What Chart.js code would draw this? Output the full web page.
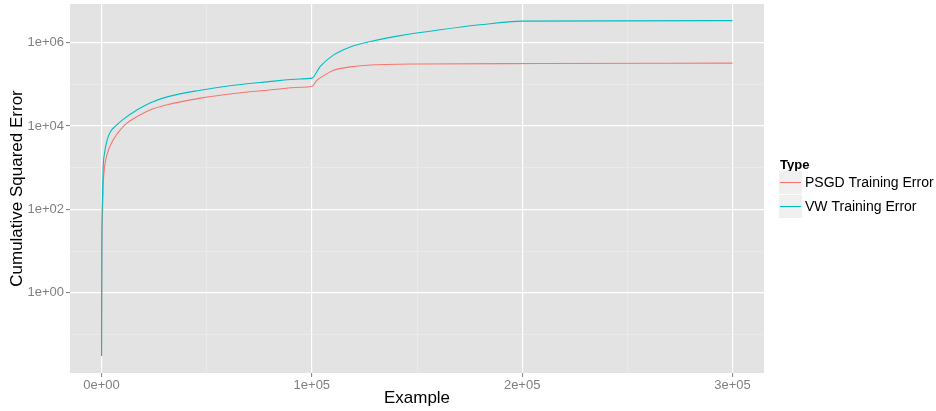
<!DOCTYPE html>
<html>
<head>
<meta charset="utf-8">
<title>Cumulative Squared Error</title>
<script src="https://cdn.jsdelivr.net/npm/chart.js@4.4.1/dist/chart.umd.min.js"></script>
<style>
  html, body { margin: 0; padding: 0; background: #fff; }
  #wrap { width: 936px; height: 411px; position: relative; }
</style>
</head>
<body>
<div id="wrap"><canvas id="errChart"></canvas></div>
<script>
// series
const seriesNames = ['PSGD Training Error', 'VW Training Error'];
const seriesColors = ['#F8766D', '#00BFC4'];

const psgdX = [0, 150, 400, 800, 1400, 2500, 5560, 10500, 18500, 23300, 31200, 47000, 62900, 78700, 94500, 100000,
  102500, 105600, 110400, 118300, 126200, 150000, 208000, 300000];
const psgdY = [0.03, 8, 60, 400, 1000, 2000, 4700, 10000, 18600, 24500, 32400, 46800, 60300, 72400, 85100, 89100,
  126000, 162000, 219000, 263000, 288000, 309000, 316000, 324000];

const vwX = [0, 150, 400, 800, 1400, 2700, 4300, 6650, 10000, 17000, 23300, 31200, 47000, 62900, 78700, 94500, 100000,
  104000, 110400, 118300, 127800, 142000, 161000, 180000, 200000, 300000];
const vwY = [0.03, 20, 170, 1070, 2200, 4700, 7400, 10000, 14100, 24500, 36300, 50100, 72400, 95500, 115000, 135000, 141000,
  270000, 510000, 794000, 1070000, 1480000, 2040000, 2690000, 3300000, 3390000];

// axis breaks
const xMajorTicks = [0, 100000, 200000, 300000];
const xTickLabels = ['0e+00', '1e+05', '2e+05', '3e+05'];
const xMinorTicks = [50000, 150000, 250000];
const yMajorTicks = [1, 100, 10000, 1000000];
const yTickLabels = ['1e+00', '1e+02', '1e+04', '1e+06'];
const yMinorTicks = [0.1, 10, 1000, 100000];

const toPoints = (xs, ys) => xs.map((x, i) => ({ x: x, y: ys[i] }));

const panelBg = '#E3E3E3';
const axisGrey = '#7F7F7F';
const fontFamily = '"Liberation Sans", Arial, sans-serif';

// grey panel behind the grid
const panelPlugin = {
  id: 'panel',
  beforeDraw(chart) {
    const { ctx, chartArea: a } = chart;
    ctx.save();
    ctx.fillStyle = panelBg;
    ctx.fillRect(a.left, a.top, a.right - a.left, a.bottom - a.top);
    ctx.restore();
  }
};

// legend box on the right: title plus one key per series
const keyLegend = {
  id: 'keyLegend',
  afterDraw(chart) {
    const { ctx, chartArea: a } = chart;
    const left = a.right + 15;
    const top = (a.top + a.bottom) / 2 - 30;
    const key = 23;
    ctx.save();
    ctx.fillStyle = '#000';
    ctx.font = 'bold 13px ' + fontFamily;
    ctx.textBaseline = 'alphabetic';
    ctx.fillText('Type', left + 1, top + 10);
    seriesNames.forEach((name, i) => {
      const ky = top + 12.5 + i * (key + 1);
      ctx.fillStyle = '#F0F0F0';
      ctx.fillRect(left, ky, key, key);
      ctx.strokeStyle = seriesColors[i];
      ctx.lineWidth = 1.1;
      ctx.beginPath();
      ctx.moveTo(left + 1, ky + key / 2);
      ctx.lineTo(left + key - 1, ky + key / 2);
      ctx.stroke();
      ctx.fillStyle = '#000';
      ctx.font = '14px ' + fontFamily;
      ctx.textBaseline = 'middle';
      ctx.fillText(name, left + key + 3, ky + key / 2 + 1);
    });
    ctx.restore();
  }
};

const isIn = (arr, v) => arr.some(t => Math.abs(t - v) <= Math.abs(t) * 1e-9);

new Chart(document.getElementById('errChart'), {
  type: 'line',
  data: {
    datasets: [
      {
        label: seriesNames[0],
        data: toPoints(psgdX, psgdY),
        borderColor: seriesColors[0],
        borderWidth: 1.1,
        pointRadius: 0,
        cubicInterpolationMode: 'monotone',
        order: 1
      },
      {
        label: seriesNames[1],
        data: toPoints(vwX, vwY),
        borderColor: seriesColors[1],
        borderWidth: 1.1,
        pointRadius: 0,
        cubicInterpolationMode: 'monotone',
        order: 0
      }
    ]
  },
  options: {
    responsive: true,
    maintainAspectRatio: false,
    animation: false,
    events: [],
    layout: { padding: { top: 4, right: 172, left: 0, bottom: 0 } },
    plugins: { legend: { display: false }, tooltip: { enabled: false } },
    scales: {
      x: {
        type: 'linear',
        min: -15000,
        max: 315000,
        afterBuildTicks: scale => {
          scale.ticks = xMajorTicks.concat(xMinorTicks).sort((a, b) => a - b).map(v => ({ value: v }));
        },
        afterFit: scale => {
          scale.height = 38;
          scale.paddingLeft = 0;
          scale.paddingRight = 0;
        },
        border: { display: false },
        grid: {
          color: c => isIn(xMajorTicks, c.tick.value) ? '#FFFFFF' : '#ECECEC',
          lineWidth: c => isIn(xMajorTicks, c.tick.value) ? 1.2 : 0.7,
          tickColor: c => isIn(xMajorTicks, c.tick.value) ? axisGrey : 'rgba(0,0,0,0)',
          tickLength: 4,
          tickWidth: 1
        },
        ticks: {
          autoSkip: false,
          maxRotation: 0,
          padding: 1,
          color: axisGrey,
          font: { family: fontFamily, size: 13 },
          callback: v => {
            const i = xMajorTicks.indexOf(v);
            return i >= 0 ? xTickLabels[i] : '';
          }
        },
        title: {
          display: true,
          text: 'Example',
          color: '#000',
          font: { family: fontFamily, size: 17 },
          padding: { top: 0, bottom: 2 }
        }
      },
      y: {
        type: 'logarithmic',
        min: 0.0118,
        max: 8.5e6,
        afterBuildTicks: scale => {
          scale.ticks = yMajorTicks.concat(yMinorTicks).sort((a, b) => a - b).map(v => ({ value: v }));
        },
        afterFit: scale => {
          scale.width = 70;
          scale.paddingTop = 0;
          scale.paddingBottom = 0;
        },
        border: { display: false },
        grid: {
          color: c => isIn(yMajorTicks, c.tick.value) ? '#FFFFFF' : '#ECECEC',
          lineWidth: c => isIn(yMajorTicks, c.tick.value) ? 1.2 : 0.7,
          tickColor: c => isIn(yMajorTicks, c.tick.value) ? axisGrey : 'rgba(0,0,0,0)',
          tickLength: 4,
          tickWidth: 1
        },
        ticks: {
          autoSkip: false,
          padding: 2,
          color: axisGrey,
          font: { family: fontFamily, size: 13 },
          callback: v => {
            const i = yMajorTicks.findIndex(t => isIn([t], v));
            return i >= 0 ? yTickLabels[i] : '';
          }
        },
        title: {
          display: true,
          text: 'Cumulative Squared Error',
          color: '#000',
          font: { family: fontFamily, size: 17 },
          padding: { top: 7, bottom: 0 }
        }
      }
    }
  },
  plugins: [panelPlugin, keyLegend]
});
</script>
</body>
</html>
